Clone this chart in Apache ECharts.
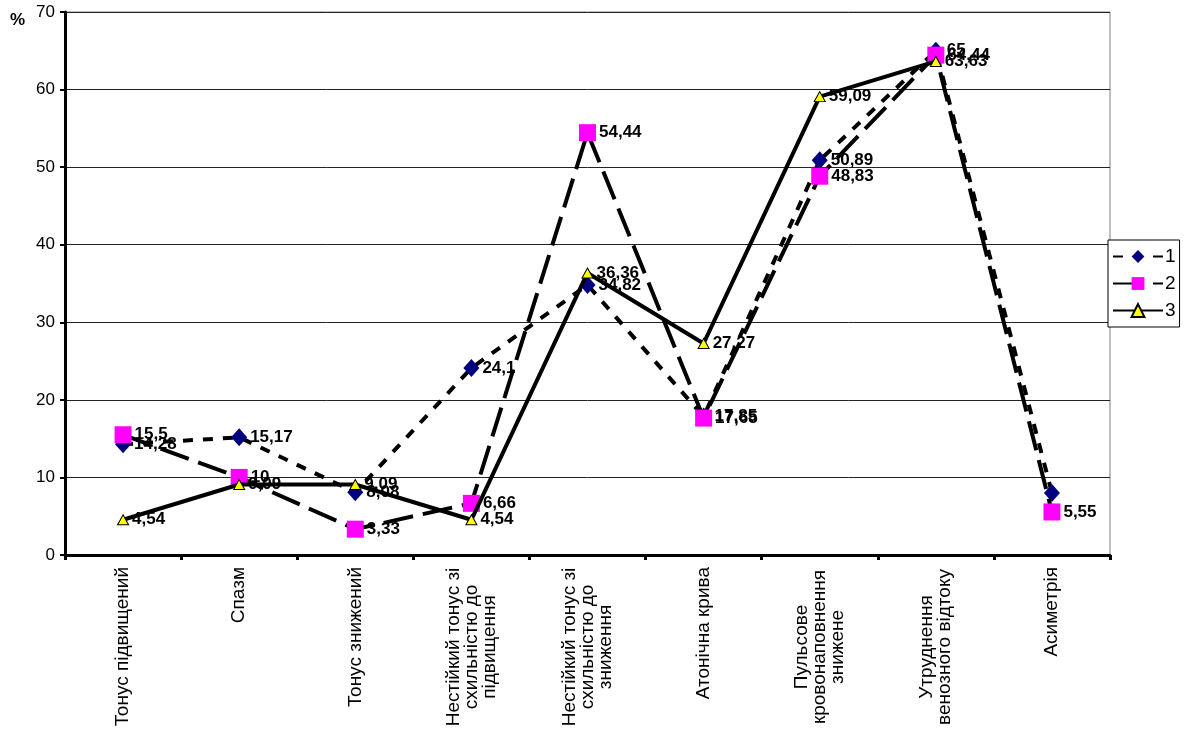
<!DOCTYPE html>
<html>
<head>
<meta charset="utf-8">
<script src="https://cdn.jsdelivr.net/npm/echarts@6/dist/echarts.min.js"></script>
<style>
  html, body { margin: 0; padding: 0; background: #fff; }
  #chart { width: 1186px; height: 731px; }
</style>
</head>
<body>
<div id="chart"></div>
<script>
// Categories (multi-line names are split with \n)
const categories = [
  'Тонус підвищений',
  'Спазм',
  'Тонус знижений',
  'Нестійкий тонус зі\nсхильністю до\nпідвищення',
  'Нестійкий тонус зі\nсхильністю до\nзниження',
  'Атонічна крива',
  'Пульсове\nкровонаповнення\nзнижене',
  'Утруднення\nвенозного відтоку',
  'Асиметрія'
];

// Series values, %
const group1 = [14.28, 15.17, 8.08, 24.1, 34.82, 17.85, 50.89, 65, 8];
const group2 = [15.5, 10, 3.33, 6.66, 54.44, 17.65, 48.83, 64.44, 5.55];
const group3 = [4.54, 9.09, 9.09, 4.54, 36.36, 27.27, 59.09, 63.63, null];

// Points whose value label is not shown
const hiddenLabels1 = [8];

const yTicks = { min: 0, max: 70, interval: 10 };

const FONT = 'Liberation Sans, Arial, sans-serif';
const fmt = v => String(v).replace('.', ',');

const labelStyle = {
  show: true,
  position: 'right',
  distance: 3,
  color: '#000',
  fontFamily: FONT,
  fontWeight: 'bold',
  fontSize: 17,
  formatter: p => (p.value == null ? '' : fmt(p.value))
};

function withHidden(values, hidden) {
  return values.map((v, i) => hidden.includes(i) ? { value: v, label: { show: false } } : v);
}

const chart = echarts.init(document.getElementById('chart'), null, { renderer: 'canvas' });

chart.setOption({
  backgroundColor: '#fff',
  animation: false,
  grid: {
    left: 65, right: 76, top: 12, bottom: 176,
    show: true, borderColor: '#808080', borderWidth: 1, backgroundColor: 'transparent'
  },
  graphic: [{
    type: 'text', left: 10, top: 12,
    style: { text: '%', font: 'bold 17px "Liberation Sans", Arial, sans-serif', fill: '#000' }
  }],
  legend: {
    orient: 'vertical',
    left: 1108,
    top: 240,
    padding: [7, 4, 7, 4],
    itemGap: 8,
    itemWidth: 50,
    itemHeight: 16,
    borderColor: '#000',
    borderWidth: 1,
    backgroundColor: '#fff',
    textStyle: { fontSize: 19, color: '#000', fontFamily: FONT, padding: [0, 0, 0, -3] },
    data: ['1', '2', '3']
  },
  xAxis: {
    type: 'category',
    data: categories,
    boundaryGap: true,
    axisLine: { lineStyle: { color: '#000', width: 3 } },
    axisTick: { show: true, length: 5, lineStyle: { color: '#000', width: 3 } },
    splitLine: { show: false },
    axisLabel: {
      interval: 0,
      rotate: 90,
      margin: 12,
      color: '#000',
      fontSize: 19,
      lineHeight: 18,
      fontFamily: FONT,
      formatter: v => v.includes('\n')
        ? v.split('\n').map(s => '{m|' + s + '}').join('\n')
        : v,
      rich: {
        m: { width: 160, align: 'center', fontSize: 19, lineHeight: 18,
             fontFamily: FONT, color: '#000' }
      }
    }
  },
  yAxis: {
    type: 'value',
    min: yTicks.min, max: yTicks.max, interval: yTicks.interval,
    axisLine: { show: true, lineStyle: { color: '#000', width: 3 } },
    axisTick: { show: true, length: 5, lineStyle: { color: '#000', width: 2 } },
    splitLine: { show: true, lineStyle: { color: '#222', width: 1 } },
    axisLabel: {
      color: '#000', fontSize: 17, margin: 10,
      fontFamily: FONT
    }
  },
  series: [
    {
      name: '1',
      type: 'line',
      data: withHidden(group1, hiddenLabels1),
      symbol: 'diamond',
      symbolSize: [16, 18],
      itemStyle: { color: '#000080' },
      lineStyle: { color: '#000', width: 4, type: [10, 10] },
      label: labelStyle,
      z: 2
    },
    {
      name: '2',
      type: 'line',
      data: group2,
      symbol: 'rect',
      symbolSize: 17,
      itemStyle: { color: '#FF00FF' },
      lineStyle: { color: '#000', width: 4, type: [30, 10] },
      label: labelStyle,
      z: 3
    },
    {
      name: '3',
      type: 'line',
      data: group3,
      connectNulls: false,
      symbol: 'triangle',
      symbolSize: [11, 10],
      itemStyle: { color: '#FFFF00', borderColor: '#000', borderWidth: 1 },
      lineStyle: { color: '#000', width: 4, type: 'solid' },
      label: labelStyle,
      z: 4
    }
  ]
});
</script>
</body>
</html>
